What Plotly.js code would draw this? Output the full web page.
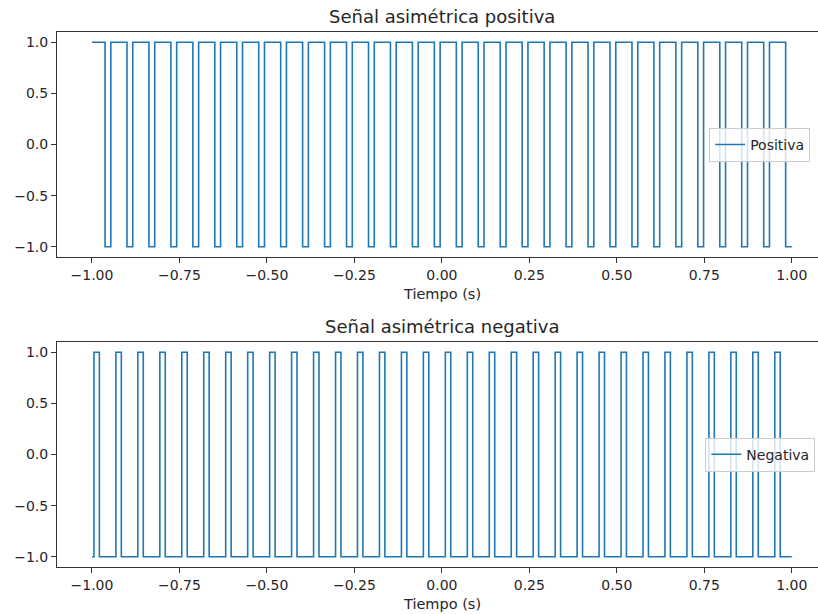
<!DOCTYPE html>
<html>
<head>
<meta charset="utf-8">
<script src="https://cdn.plot.ly/plotly-3.0.1.min.js"></script>
<style>html,body{margin:0;padding:0;background:#fff;}#chart{width:818px;height:614px;}</style>
</head>
<body>
<div id="chart"></div>
<script>
// Time span of the signals (s)
const tStart = -1.0;
const tEnd = 1.0;

// Positive asymmetric signal: starts high (1), brief drops to -1
const posDipStart = [-0.9627,-0.9000,-0.8372,-0.7745,-0.7117,-0.6490,-0.5862,-0.5235,-0.4607,-0.3980,-0.3352,-0.2725,-0.2097,-0.1470,-0.0842,-0.0215,0.0413,0.1040,0.1668,0.2295,0.2923,0.3550,0.4178,0.4805,0.5433,0.6060,0.6688,0.7315,0.7943,0.8570,0.9198,0.9825];
const posDipEnd   = [-0.9462,-0.8835,-0.8207,-0.7580,-0.6952,-0.6325,-0.5697,-0.5070,-0.4442,-0.3815,-0.3187,-0.2560,-0.1932,-0.1305,-0.0677,-0.0050,0.0578,0.1205,0.1833,0.2460,0.3088,0.3715,0.4343,0.4970,0.5598,0.6225,0.6853,0.7480,0.8108,0.8735,0.9363,1.0000];
const posHigh = 1, posLow = -1;

// Negative asymmetric signal: starts low (-1), brief pulses to 1
const negPulseStart = [-0.9944,-0.9316,-0.8689,-0.8061,-0.7433,-0.6806,-0.6178,-0.5550,-0.4922,-0.4295,-0.3667,-0.3039,-0.2412,-0.1784,-0.1156,-0.0529,0.0099,0.0727,0.1355,0.1982,0.2610,0.3238,0.3865,0.4493,0.5121,0.5749,0.6376,0.7004,0.7632,0.8259,0.8887,0.9515];
const negPulseEnd   = [-0.9789,-0.9161,-0.8534,-0.7906,-0.7278,-0.6651,-0.6023,-0.5395,-0.4767,-0.4140,-0.3512,-0.2884,-0.2257,-0.1629,-0.1001,-0.0374,0.0254,0.0882,0.1510,0.2137,0.2765,0.3393,0.4020,0.4648,0.5276,0.5904,0.6531,0.7159,0.7787,0.8414,0.9042,0.9670];
const negHigh = 1, negLow = -1;

const xTicks = [-1.00,-0.75,-0.50,-0.25,0.00,0.25,0.50,0.75,1.00];
const yTicks = [-1.0,-0.5,0.0,0.5,1.0];

function buildStep(base, other, starts, ends) {
  const x = [tStart], y = [base];
  for (let i = 0; i < starts.length; i++) {
    x.push(starts[i]); y.push(other);
    if (ends[i] < tEnd) { x.push(ends[i]); y.push(base); }
  }
  x.push(tEnd); y.push(y[y.length - 1]);
  return {x, y};
}

const pos = buildStep(posHigh, posLow, posDipStart, posDipEnd);
const neg = buildStep(negLow, negHigh, negPulseStart, negPulseEnd);

const blue = '#1f77b4';
const txt = '#262626';
const fam = 'DejaVu Sans, sans-serif';
const tickFont = {family: fam, size: 14, color: txt};
const labelFont = {family: fam, size: 14.5, color: txt};
const titleFont = {family: fam, size: 18, color: txt};

const traces = [
  {x: pos.x, y: pos.y, type: 'scatter', mode: 'lines', line: {shape: 'hv', color: blue, width: 1.6},
   name: 'Positiva', xaxis: 'x', yaxis: 'y', legend: 'legend', hoverinfo: 'skip'},
  {x: neg.x, y: neg.y, type: 'scatter', mode: 'lines', line: {shape: 'hv', color: blue, width: 1.6},
   name: 'Negativa', xaxis: 'x2', yaxis: 'y2', legend: 'legend2', hoverinfo: 'skip'}
];

const xBase = {
  range: [-1.1, 1.075], tickvals: xTicks, tickformat: '.2f', ticks: 'outside', ticklen: 5,
  tickcolor: '#333', showline: true, linecolor: '#333', linewidth: 1, mirror: true,
  showgrid: false, zeroline: false, tickfont: tickFont
};
const yBase = {
  range: [-1.1, 1.1], tickvals: yTicks, tickformat: '.1f', ticks: 'outside', ticklen: 5,
  tickcolor: '#333', showline: true, linecolor: '#333', linewidth: 1, mirror: false,
  showgrid: false, zeroline: false, tickfont: tickFont
};

const legBase = {
  font: tickFont, bgcolor: 'rgba(255,255,255,0.8)', bordercolor: '#cccccc', borderwidth: 1,
  xanchor: 'left', yanchor: 'middle', itemwidth: 30, tracegroupgap: 0
};

const layout = {
  width: 818, height: 614,
  margin: {l: 57, r: 0, t: 32, b: 47},
  paper_bgcolor: '#fff', plot_bgcolor: '#fff',
  font: tickFont,
  showlegend: true,
  xaxis: Object.assign({}, xBase, {domain: [0, 1], anchor: 'y'}),
  yaxis: Object.assign({}, yBase, {domain: [0.5794, 1], anchor: 'x'}),
  xaxis2: Object.assign({}, xBase, {domain: [0, 1], anchor: 'y2'}),
  yaxis2: Object.assign({}, yBase, {domain: [0, 0.4206], anchor: 'x2'}),
  legend: Object.assign({}, legBase, {x: 0.857, y: 0.789}),
  legend2: Object.assign({}, legBase, {x: 0.852, y: 0.210}),
  annotations: [
    {text: 'Señal asimétrica positiva', xref: 'paper', yref: 'paper', x: 0.506, y: 1, yshift: 3,
     xanchor: 'center', yanchor: 'bottom', showarrow: false, font: titleFont},
    {text: 'Señal asimétrica negativa', xref: 'paper', yref: 'paper', x: 0.506, y: 0.4206, yshift: 3,
     xanchor: 'center', yanchor: 'bottom', showarrow: false, font: titleFont},
    {text: 'Tiempo (s)', xref: 'paper', yref: 'paper', x: 0.506, y: 0.5794, yshift: -27,
     xanchor: 'center', yanchor: 'top', showarrow: false, font: labelFont},
    {text: 'Tiempo (s)', xref: 'paper', yref: 'paper', x: 0.506, y: 0, yshift: -27,
     xanchor: 'center', yanchor: 'top', showarrow: false, font: labelFont}
  ]
};

Plotly.newPlot('chart', traces, layout, {staticPlot: true, displayModeBar: false});
</script>
</body>
</html>
